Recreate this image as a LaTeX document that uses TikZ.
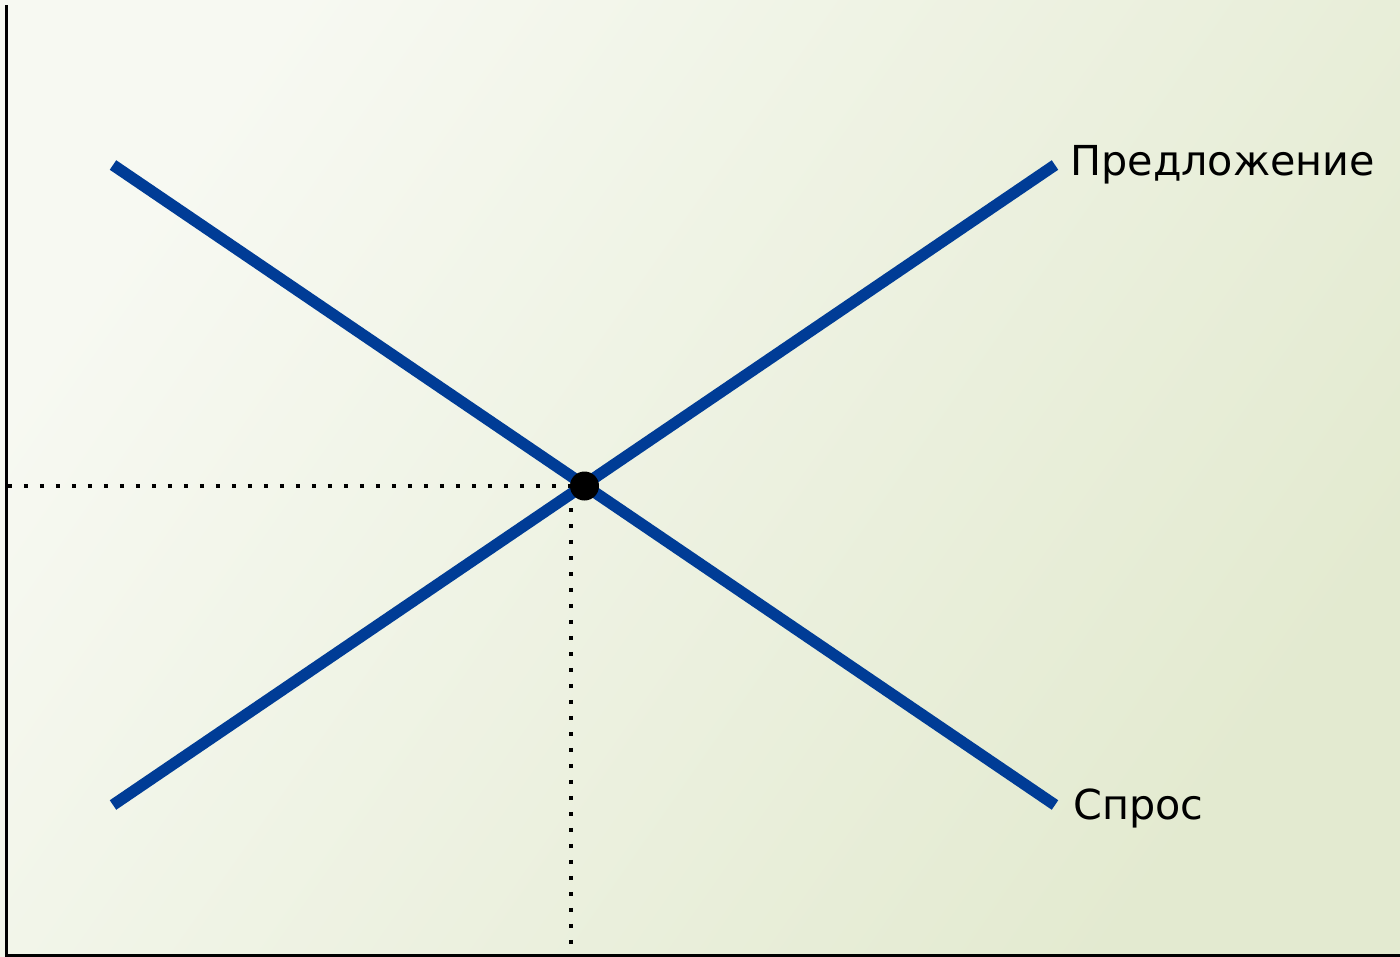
\documentclass[tikz,border=0pt]{standalone}
\usepackage{fontspec}
\setmainfont{DejaVu Sans}
\definecolor{bgtl}{HTML}{F7F9F2}
\definecolor{bgbr}{HTML}{E3EAD0}
\definecolor{curveblue}{HTML}{003C96}
\tikzset{
  curve/.style={draw=curveblue, line width=0.23cm},
  axisline/.style={draw=black, line width=0.06cm},
  dotline/.style={draw=black, line width=0.08cm, dash pattern=on 0.08cm off 0.24cm},
  lbl/.style={anchor=base west, inner sep=0pt, font=\fontsize{23.5}{28}\selectfont}
}
\begin{document}
\begin{tikzpicture}[x=0.02cm, y=-0.02cm]
\useasboundingbox (0,0) rectangle (1400,957);
\shade[top color=bgtl, bottom color=bgbr, shading angle=55] (0,0) rectangle (1400,957);
% axes
\coordinate (ytop) at (6.5,5);
\coordinate (origin) at (6.5,955);
\coordinate (xend) at (1400,955);
\draw[axisline] (ytop) -- (origin) -- (xend);
% equilibrium
\coordinate (E) at (584.5,486);
\coordinate (Ey) at (8,486);
\coordinate (Ex) at (571,955);
\coordinate (Exs) at (571,492);
\draw[dotline] (Ey) -- (E);
\draw[dotline] (Exs) -- (Ex);
% curves
\coordinate (d1) at (113,165);
\coordinate (d2) at (1055,805);
\coordinate (s1) at (113,805);
\coordinate (s2) at (1055,165);
\draw[curve] (d1) -- (d2);
\draw[curve] (s1) -- (s2);
\fill[black] (E) circle (14.5);
% labels
\node[lbl] (supply) at (1070,175) {Предложение};
\node[lbl] (demand) at (1073,819) {Спрос};
\end{tikzpicture}
\end{document}
